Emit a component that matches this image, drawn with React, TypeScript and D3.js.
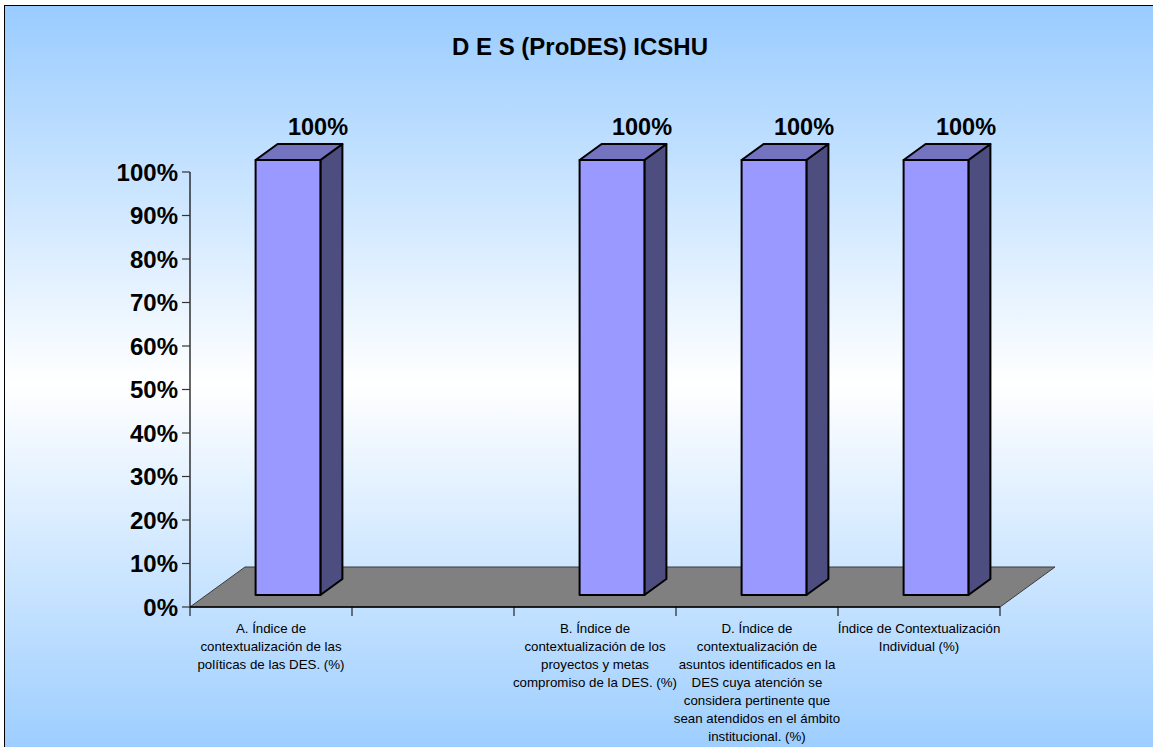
import React from "react";
import * as d3 from "d3";

const title = "D E S (ProDES) ICSHU";
const categories = ["A", "C", "B", "D", "I"];
const categoryLabels: string[][] = [
  ["A. Índice de", "contextualización de las", "políticas de las DES. (%)"],
  [],
  ["B. Índice de", "contextualización de los", "proyectos y metas", "compromiso de la DES. (%)"],
  [
    "D. Índice de",
    "contextualización de",
    "asuntos identificados en la",
    "DES cuya atención se",
    "considera pertinente que",
    "sean atendidos en el ámbito",
    "institucional. (%)",
  ],
  ["Índice de Contextualización", "Individual (%)"],
];
const values: (number | null)[] = [1, null, 1, 1, 1];
const yTicks = [0, 0.1, 0.2, 0.3, 0.4, 0.5, 0.6, 0.7, 0.8, 0.9, 1];

const W = 1153;
const H = 747;
const FONT = "'Liberation Sans', Arial, Helvetica, sans-serif";

export default function App() {
  const x = d3.scaleBand<string>().domain(categories).range([190, 1000]).padding(0);
  const y = d3.scaleLinear().domain([0, 1]).range([607, 172]);
  const pct = d3.format(".0%");

  const floorDX = 55;
  const floorDY = -40;
  const barShiftX = 17;
  const barShiftY = -12;
  const barDX = 22;
  const barDY = -16;
  const barW = x.bandwidth() * 0.4;

  const floorPts = [
    [x.range()[0], y(0)],
    [x.range()[1], y(0)],
    [x.range()[1] + floorDX, y(0) + floorDY],
    [x.range()[0] + floorDX, y(0) + floorDY],
  ];

  return (
    <svg
      width={W}
      height={H}
      style={{ position: "absolute", left: 0, top: 0, display: "block" }}
      fontFamily={FONT}
    >
      <defs>
        <linearGradient id="bg" x1="0" y1="0" x2="0" y2="1">
          <stop offset="0" stopColor="#99ccff" />
          <stop offset="0.5" stopColor="#ffffff" />
          <stop offset="1" stopColor="#99ccff" />
        </linearGradient>
      </defs>
      <rect x={4.5} y={5.5} width={W + 10} height={H + 10} fill="url(#bg)" stroke="#000" strokeWidth={1} />

      <text x={580} y={55} textAnchor="middle" fontSize={24} fontWeight="bold" fill="#000">
        {title}
      </text>

      {/* floor */}
      <polygon
        points={floorPts.map((p) => p.join(",")).join(" ")}
        fill="#808080"
        stroke="#3a3a3a"
        strokeWidth={1}
      />

      {/* y axis */}
      <line x1={190} x2={190} y1={y(1)} y2={y(0)} stroke="#000" strokeWidth={1.2} />
      {yTicks.map((t) => (
        <g key={t}>
          <line x1={182} x2={190} y1={y(t)} y2={y(t)} stroke="#333" strokeWidth={1.2} />
          <text x={178} y={y(t) + 8.5} textAnchor="end" fontSize={24} fontWeight="bold" fill="#000">
            {pct(t)}
          </text>
        </g>
      ))}

      {/* x axis */}
      <line x1={190} x2={1000} y1={y(0)} y2={y(0)} stroke="#000" strokeWidth={1.5} />
      {[...categories.map((c) => x(c) as number), x.range()[1]].map((tx, i) => (
        <line key={i} x1={tx} x2={tx} y1={y(0)} y2={y(0) + 9} stroke="#000" strokeWidth={1} />
      ))}

      {/* bars */}
      {categories.map((c, i) => {
        const v = values[i];
        if (v == null) return null;
        const cx = (x(c) as number) + x.bandwidth() / 2 + barShiftX;
        const x0 = cx - barW / 2;
        const x1 = cx + barW / 2;
        const yb = y(0) + barShiftY;
        const yt = y(v) + barShiftY;
        const front = `${x0},${yt} ${x1},${yt} ${x1},${yb} ${x0},${yb}`;
        const top = `${x0},${yt} ${x0 + barDX},${yt + barDY} ${x1 + barDX},${yt + barDY} ${x1},${yt}`;
        const side = `${x1},${yt} ${x1 + barDX},${yt + barDY} ${x1 + barDX},${yb + barDY} ${x1},${yb}`;
        return (
          <g key={c} stroke="#000" strokeWidth={2} strokeLinejoin="round">
            <polygon points={side} fill="#4d4d80" />
            <polygon points={top} fill="#7373bf" />
            <polygon points={front} fill="#9999ff" />
            <text
              x={cx + 30}
              y={yt + barDY - 9}
              textAnchor="middle"
              fontSize={23.5}
              fontWeight="bold"
              fill="#000"
              stroke="none"
            >
              {pct(v)}
            </text>
          </g>
        );
      })}

      {/* category labels */}
      {categories.map((c, i) => (
        <text key={c} textAnchor="middle" fontSize={13.3} fill="#000">
          {categoryLabels[i].map((line, j) => (
            <tspan key={j} x={(x(c) as number) + x.bandwidth() / 2} y={633 + j * 18}>
              {line}
            </tspan>
          ))}
        </text>
      ))}
    </svg>
  );
}
